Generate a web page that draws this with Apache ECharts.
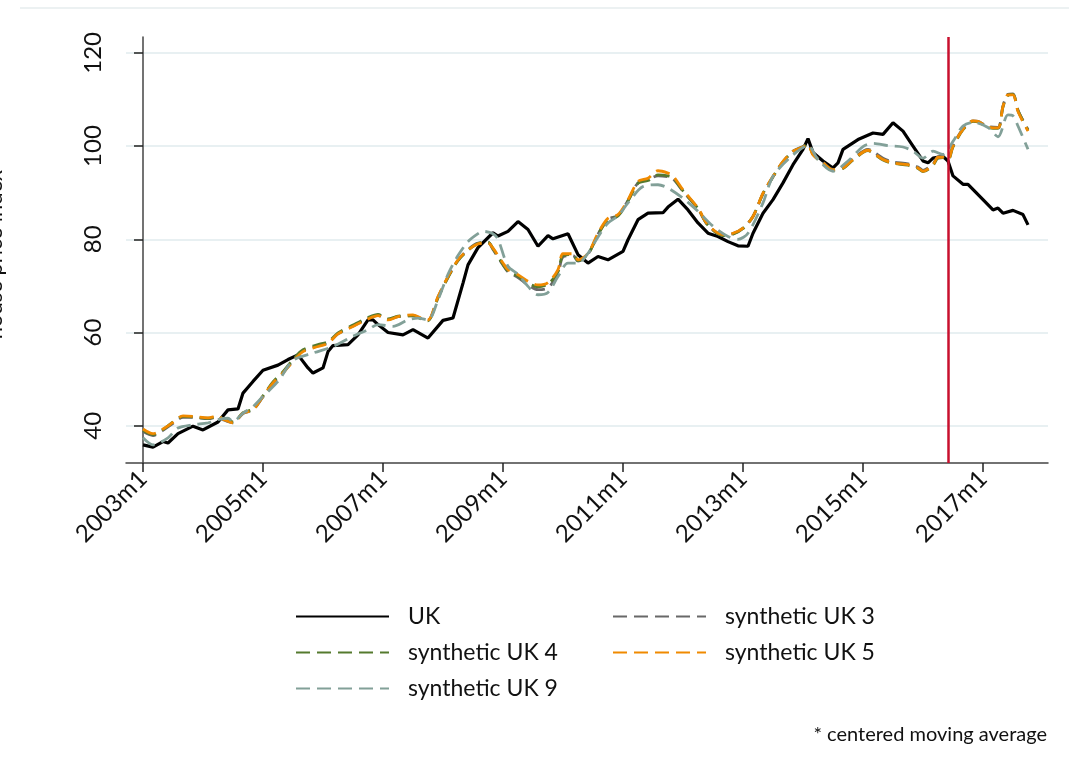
<!DOCTYPE html>
<html>
<head>
<meta charset="utf-8">
<script src="https://cdn.jsdelivr.net/npm/echarts@6/dist/echarts.min.js"></script>
<style>
  html, body { margin: 0; padding: 0; background: #fff; }
  #uk { width: 1069px; height: 774px; }
</style>
</head>
<body>
<div id="uk"></div>
<script>
// months counted from 2003m1 (= 0)
var xTickMonths = [0, 24, 48, 72, 96, 120, 144, 168];
var yTicks = [40, 60, 80, 100, 120];
var referendumMonth = 161; // 2016m6

// UK
var ukMonths = [0,2,4,5,7,10,12,15,17,19, 20,22,24,27,29,31,33,34,36,37,
	38,41,43,45,46,47,49,52,54,57, 60,62,64,65,67,70,71,73,75,77,
	79,81,82,85,87,89,91,93,96,97, 99,101,104,105,107,109,111,113,115,117,
	119,121,122,124,126,128,130,132,133,134, 136,138,139,140,143,146,148,150,152,154,
	156,157,158,160,161,162,164,165,168,170, 171,172,174,176,177];
var ukValues = [35.9,35.4,36.6,36.3,38.3,39.9,39.1,40.8,43.4,43.6, 47,49.5,51.9,53,54.2,55.2,52.4,51.3,52.4,55.9,
	57.2,57.4,59.5,62.7,62.7,61.7,60,59.5,60.6,58.8, 62.6,63.1,70.6,74.5,78.2,81.4,80.7,81.7,83.8,82.1,
	78.5,80.8,80.1,81.2,76.7,74.9,76.3,75.6,77.4,79.9, 84.2,85.6,85.7,86.9,88.6,86.3,83.5,81.3,80.6,79.5,
	78.6,78.5,81.3,85.6,88.5,92.1,96,99.3,101.6,98.6, 96.8,95.3,96.4,99.3,101.4,102.8,102.5,105,103.2,100,
	96.8,96.4,97.4,97.8,96.8,93.6,91.8,91.8,88.5,86.3, 86.7,85.6,86.2,85.3,83.1];

// synthetic UK 3, 4, 5 (same months)
var synMonths = [0,2,4,6,8,10,13,15,16,18, 20,22,24,26,28,30,32,35,37,39,
	42,45,47,49,51,54,56,57,59,61, 63,65,67,69,70,72,73,75,77,79,
	81,83,84,86,87,89,91,93,95,97, 99,101,103,105,106,108,111,113,116,118,
	120,122,124,126,128,130,132,133,134,136, 138,140,142,145,146,148,150,153,155,156,
	158,159,160,161,162,164,166,167,169,171, 172,173,174,175,177];
var syn3Values = [38.8,37.9,39.0,40.5,41.8,41.8,41.5,41.9,41.3,40.6, 42.6,43.4,46.2,49.1,51.3,53.9,56.0,57.1,57.8,59.7,
	61.4,63.0,63.7,62.8,63.4,63.6,62.8,62.6,67.6,71.9, 75.5,77.8,79.2,79.3,77.8,74.5,73.0,71.8,70.2,69.2,
	69.6,72.6,76.2,76.5,75.3,76.8,81.1,84.3,85.1,88.3, 92.1,92.8,93.6,93.4,93.0,90.3,86.5,83.0,80.9,81.2,
	82.4,84.9,89.8,93.4,96.6,98.9,99.9,100.4,98.3,96.5, 95.0,95.4,97.3,99.3,98.8,97.4,96.6,96.2,95.5,94.8,
	96.2,97.7,97.8,97.3,100.1,103.7,105.4,105.3,104.2,104.0, 108.6,111.1,111.2,107.7,103.5];
var syn4Values = [39.0,38.1,39.2,40.8,42.0,41.9,41.6,42.0,41.5,40.8, 42.8,43.6,46.4,49.4,51.6,54.2,56.3,57.4,58.0,59.9,
	61.6,63.2,63.9,62.9,63.5,63.6,62.7,62.5,67.4,71.8, 75.4,77.6,79.1,79.4,78.0,74.6,73.2,72.1,70.6,69.8,
	70.4,73.0,76.5,76.7,75.4,76.8,81.0,84.2,85.0,88.2, 92.0,92.6,93.8,93.6,93.2,90.4,86.6,83.0,80.8,81.1,
	82.3,84.9,89.8,93.4,96.6,98.8,99.8,100.4,98.2,96.3, 94.8,95.2,97.0,99.0,98.5,97.0,96.3,95.9,95.2,94.5,
	95.9,97.4,97.5,97.0,99.8,103.5,105.3,105.2,104.0,103.8, 108.4,110.9,111.1,107.6,103.4];
var syn5Values = [39.3,38.3,39.3,40.7,42.1,42,41.7,42.1,41.4,40.6, 42.7,43.4,46.3,49.2,51.3,53.8,55.9,57,57.7,59.7,
	61.3,62.9,63.6,62.7,63.4,63.8,62.9,62.7,67.7,72, 75.6,77.7,79,79.2,78.1,74.9,73.5,72.4,71,70.2,
	70.7,73.5,76.9,76.9,75.6,77,81.3,84.5,85.3,88.5, 92.4,93.1,94.7,94.2,93.6,90.6,86.7,83.1,81,81.3,
	82.4,84.9,89.9,93.5,96.7,98.9,99.8,100.3,98.1,96.4, 94.9,95.3,97.1,99.1,98.6,97.1,96.4,96,95.3,94.6,
	96,97.6,97.6,97.1,100,103.6,105.4,105.3,104.1,103.9, 108.5,111,111,107.4,103.2];

// synthetic UK 9
var syn9Months = [0,2,5,7,10,13,15,17,18,20, 22,24,27,30,34,38,42,45,47,50,
	53,55,57,59,61,63,65,67,68,70, 71,73,75,77,79,81,83,85,87,89,
	91,93,95,97,100,103,105,108,111,114, 117,119,121,124,126,130,133,135,138,141,
	144,146,149,152,154,156,158,160,162,164, 166,169,171,173,174,175,177];
var syn9Values = [37.4,35.9,37.4,39.5,40.2,40.6,41.3,41.6,40.9,42.7, 44.1,46.3,49.5,54,55.6,57,59.2,60.6,61.7,61.3,
	62.7,63.1,62.7,67,72.5,76.5,79.5,81.2,81.7,81.2, 80,74.2,72.5,69.9,68.1,68.6,72,74.9,74.9,77,
	80.5,83.5,85,87.8,91.3,91.7,91,88.8,86,82.8, 80.6,80,81.3,87.8,93.5,98.1,100.1,97.1,94.6,96.8,
	99.9,100.6,100.1,99.8,98.9,97.4,98.9,98.2,101,104.3, 105.1,104,102,106.7,106.5,104.3,99.3];

var font = 'Lato';

function pairs(months, values) {
	return months.map(function (m, i) { return [m, values[i]]; });
}

function synSeries(name, color, months, values) {
	return {
		name: name,
		type: 'line',
		data: pairs(months, values),
		symbol: 'none',
		smooth: 0.3,
		lineStyle: { color: color, width: 2.8, type: [14, 7] },
		itemStyle: { color: color }
	};
}

// legend column, line sample only (no symbol)
function legendAt(left, names) {
	return {
		orient: 'vertical',
		left: left,
		top: 600,
		itemWidth: 93,
		itemHeight: 24,
		itemGap: 13,
		itemStyle: { opacity: 0 },
		textStyle: { fontFamily: font, fontSize: 23, color: '#111', padding: [0, 0, 0, 14] },
		data: names
	};
}

function echarts_uk() {
	var container = echarts.init(document.getElementById('uk'));
	var option = {
		animation: false,
		grid: { left: 126, right: 21, top: 37, bottom: 311, outerBoundsMode: 'none', containLabel: false },
		legend: [
			legendAt(290, ['UK', 'synthetic UK 4', 'synthetic UK 9']),
			legendAt(607, ['synthetic UK 3', 'synthetic UK 5'])
		],
		xAxis: {
			type: 'value',
			min: -3.4,
			max: 181,
			axisLine: { lineStyle: { color: '#444', width: 1.5 } },
			axisTick: { customValues: xTickMonths, length: 9, lineStyle: { color: '#222', width: 1.5 } },
			axisLabel: {
				customValues: xTickMonths,
				rotate: 45,
				margin: 12,
				fontFamily: font,
				fontSize: 24,
				color: '#111',
				formatter: function (v) { return (2003 + v / 12) + 'm1'; }
			},
			splitLine: { show: false }
		},
		yAxis: {
			type: 'value',
			min: 32,
			max: 123.4,
			name: 'house price index*',
			nameLocation: 'middle',
			nameGap: 120,
			nameTextStyle: { fontFamily: font, fontSize: 22, color: '#111' },
			axisLine: { show: true, lineStyle: { color: '#444', width: 1.5 } },
			axisTick: { show: true, customValues: yTicks, length: 9, lineStyle: { color: '#222', width: 1.5 } },
			axisLabel: {
				customValues: yTicks,
				rotate: 90,
				margin: 21,
				fontFamily: font,
				fontSize: 24,
				color: '#111'
			},
			splitLine: { show: true, lineStyle: { color: '#e8f0f2', width: 2 } }
		},
		series: [
			{
				name: 'UK',
				type: 'line',
				data: pairs(ukMonths, ukValues),
				symbol: 'none',
				lineStyle: { color: '#000', width: 3.2 },
				itemStyle: { color: '#000' }
			},
			synSeries('synthetic UK 3', '#686868', synMonths, syn3Values),
			synSeries('synthetic UK 4', '#557a2e', synMonths, syn4Values),
			synSeries('synthetic UK 5', '#f08a00', synMonths, syn5Values),
			Object.assign(synSeries('synthetic UK 9', '#82a098', syn9Months, syn9Values), {
				markLine: {
					silent: true,
					symbol: 'none',
					label: { show: false },
					lineStyle: { color: '#c8102e', width: 2.5, type: 'solid' },
					data: [{ xAxis: referendumMonth }]
				}
			})
		],
		graphic: [
			{
				type: 'line',
				shape: { x1: 20, y1: 8, x2: 1069, y2: 8 },
				style: { stroke: '#e6ecee', lineWidth: 1.5 }
			},
			{
				type: 'text',
				right: 22,
				top: 725,
				style: { text: '* centered moving average', fontFamily: font, fontSize: 20, fill: '#111' }
			}
		]
	};
	container.setOption(option, true);
}

echarts_uk();
</script>
</body>
</html>
